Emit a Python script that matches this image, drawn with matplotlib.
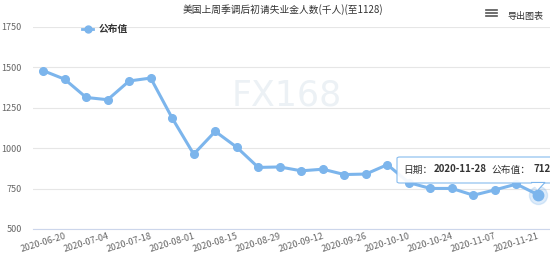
import matplotlib
matplotlib.use('Agg')
import matplotlib.pyplot as plt
from matplotlib.patches import FancyBboxPatch, Polygon

plt.rcParams['font.family'] = ['Noto Sans CJK SC', 'DejaVu Sans']

# data (weekly, seasonally adjusted initial jobless claims, thousands)
dates = ['2020-06-20', '2020-06-27', '2020-07-04', '2020-07-11', '2020-07-18', '2020-07-25',
         '2020-08-01', '2020-08-08', '2020-08-15', '2020-08-22', '2020-08-29', '2020-09-05',
         '2020-09-12', '2020-09-19', '2020-09-26', '2020-10-03', '2020-10-10', '2020-10-17',
         '2020-10-24', '2020-10-31', '2020-11-07', '2020-11-14', '2020-11-21', '2020-11-28']
values = [1480, 1427, 1314, 1300, 1416, 1434, 1186, 963, 1104, 1006, 881, 884,
          860, 870, 837, 840, 898, 787, 751, 751, 709, 742, 778, 712]
yticks = [500, 750, 1000, 1250, 1500, 1750]

title = '美国上周季调后初请失业金人数(千人)(至1128)'
series_name = '公布值'

blue = '#7cb5ec'
x = list(range(len(dates)))

fig = plt.figure(figsize=(5.5, 2.7), dpi=100)
ax = fig.add_axes([33 / 550, 1 - 229 / 270, 1 - 33 / 550, (229 - 27) / 270])

ax.set_xlim(-0.47, len(dates) - 1 + 0.56)
ax.set_ylim(500, 1750)
ax.set_yticks(yticks)
ax.set_yticklabels([str(v) for v in yticks], fontsize=6.5, color='#666666')
ax.grid(axis='y', color='#e6e6e6', linewidth=0.8)
ax.set_axisbelow(True)
for s in ['top', 'right', 'left']:
    ax.spines[s].set_visible(False)
ax.spines['bottom'].set_color('#ccd6eb')
ax.spines['bottom'].set_linewidth(0.8)
ax.tick_params(axis='y', length=0, pad=8)
ax.tick_params(axis='x', length=0, pad=2)

ax.set_xticks(x[::2])
ax.set_xticklabels(dates[::2], rotation=17, ha='center', fontsize=6.5, color='#666666')

# watermark
ax.text(0.49, 0.66, 'FX168', transform=ax.transAxes, fontsize=25, color='#ecf1f5',
        ha='center', va='center', family='DejaVu Sans', zorder=0)

ax.plot(x, values, color=blue, linewidth=2.2, marker='o', markersize=5.5,
        markeredgecolor=blue, zorder=3)
# highlighted last point
ax.plot(x[-1], values[-1], 'o', markersize=13, color=blue, alpha=0.25, zorder=3)
ax.plot(x[-1], values[-1], 'o', markersize=7.5, color=blue, zorder=4)

# title and header items
fig.text(0.515, 0.963, title, ha='center', va='center', fontsize=7, color='#333333')
fig.text(507 / 550, 0.94, '导出图表', ha='left', va='center', fontsize=6.5, color='#333333')
for dy in (-3, 0, 3):
    fig.add_artist(plt.Line2D([486 / 550, 497 / 550], [(270 - 13 + dy) / 270] * 2,
                              color='#555555', linewidth=1.2))

# legend
ly = 1 - 29 / 270
fig.add_artist(plt.Line2D([82 / 550, 93 / 550], [ly, ly], color=blue, linewidth=2))
fig.add_artist(plt.Line2D([87.5 / 550], [ly], marker='o', markersize=5, color=blue))
fig.text(99 / 550, ly, series_name, ha='left', va='center', fontsize=7,
         fontweight='bold', color='#333333')

# tooltip
tx0, tx1, ty0, ty1 = 397 / 550, 560 / 550, 1 - 183 / 270, 1 - 157 / 270
box = FancyBboxPatch((tx0, ty0), tx1 - tx0, ty1 - ty0, boxstyle='round,pad=0,rounding_size=0.005',
                     transform=fig.transFigure, facecolor='white', edgecolor=blue,
                     linewidth=0.8, alpha=0.92, zorder=5)
fig.add_artist(box)
ptr = Polygon([[531 / 550, ty0 + 0.002], [545 / 550, ty0 + 0.002], [538 / 550, 1 - 190 / 270]],
              closed=False, transform=fig.transFigure, facecolor='white', edgecolor=blue,
              linewidth=0.8, zorder=5)
fig.add_artist(ptr)
tyc = 1 - 169.5 / 270
fig.text(403 / 550, tyc, '日期：', ha='left', va='center', fontsize=7, color='#333333', zorder=6)
fig.text(434 / 550, tyc, dates[-1], ha='left', va='center', fontsize=7, fontweight='bold',
         color='#333333', zorder=6)
fig.text(491 / 550, tyc, series_name + '：', ha='left', va='center', fontsize=7,
         color='#333333', zorder=6)
fig.text(533 / 550, tyc, str(values[-1]), ha='left', va='center', fontsize=7,
         fontweight='bold', color='#333333', zorder=6)

fig.savefig('out.png', dpi=100)
